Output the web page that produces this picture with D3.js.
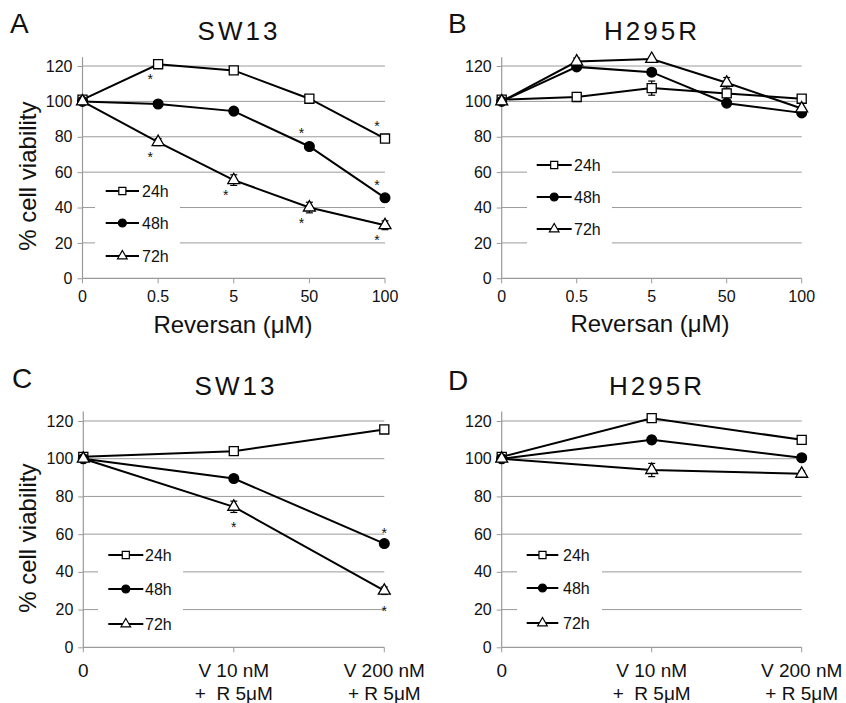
<!DOCTYPE html>
<html>
<head>
<meta charset="utf-8">
<script src="https://cdn.jsdelivr.net/npm/d3@7"></script>
<style>
  body { margin: 0; background: #fff; }
  svg text { font-family: "Liberation Sans", Arial, sans-serif; fill: #111; white-space: pre; }
</style>
</head>
<body>
<div id="chart"></div>
<script>
// categories / ticks
const seriesNames = ["24h", "48h", "72h"];
const doseLabels = ["0", "0.5", "5", "50", "100"];
const comboLabels = [["0"], ["V 10 nM", "+  R 5\u03bcM"], ["V 200 nM", "+ R 5\u03bcM"]];
const yTicks = [0, 20, 40, 60, 80, 100, 120];

// A: SW13, Reversan dose
const sw13Dose24 = [101, 121, 117.5, 101.5, 79];
const sw13Dose48 = [100, 98.5, 94.5, 74.5, 45.5];
const sw13Dose72 = [100, 77, 55.5, 40, 30];
const sw13DoseErr24 = [1, 1, 1, 1, 1];
const sw13DoseErr48 = [1, 1, 1, 1, 1];
const sw13DoseErr72 = [1, 2, 3, 3, 2.5];
const sw13DoseStars = [["24h", 1, "below"], ["24h", 4, "above"], ["48h", 3, "above"], ["48h", 4, "above"],
                       ["72h", 1, "below"], ["72h", 2, "below"], ["72h", 3, "below"], ["72h", 4, "below"]];

// B: H295R, Reversan dose
const h295Dose24 = [101, 102.5, 107.5, 104.5, 101.5];
const h295Dose48 = [100, 119.5, 116.5, 99, 93.5];
const h295Dose72 = [100, 122.5, 124, 110.5, 96];
const h295DoseErr24 = [1, 2.5, 4, 2, 1];
const h295DoseErr48 = [1, 1.5, 1, 1, 1];
const h295DoseErr72 = [1, 2, 1, 3, 1];

// C: SW13, vincristine + Reversan
const sw13Combo24 = [101, 104, 115.5];
const sw13Combo48 = [100, 89.5, 55];
const sw13Combo72 = [100, 74.5, 30];
const sw13ComboErr24 = [1, 1, 1];
const sw13ComboErr48 = [1, 1, 1];
const sw13ComboErr72 = [1, 3, 2];
const sw13ComboStars = [["72h", 1, "below"], ["48h", 2, "above"], ["72h", 2, "below"]];

// D: H295R, vincristine + Reversan
const h295Combo24 = [101, 121.5, 110];
const h295Combo48 = [100, 110, 100.5];
const h295Combo72 = [100, 94, 92];
const h295ComboErr24 = [1, 1, 1];
const h295ComboErr48 = [1, 2, 1];
const h295ComboErr72 = [1, 3.5, 1.5];

const width = 846, height = 703;
const grid = "#9a9a9a";

const svg = d3.select("#chart").append("svg")
    .attr("width", width)
    .attr("height", height);

const panels = [
    { letter: "A", title: "SW13", cats: doseLabels, values: [sw13Dose24, sw13Dose48, sw13Dose72],
      errs: [sw13DoseErr24, sw13DoseErr48, sw13DoseErr72], stars: sw13DoseStars,
      x0: 82.5, x1: 385, yb: 278.3, yt: 66, letterX: 10, letterY: 33, titleX: 239, titleY: 40,
      yTitle: true, xTitle: "Reversan (\u03bcM)", xTitleX: 233, xTitleY: 333, tickBase: 302, tickFont: 16,
      leg: { box: [95, 175, 85, 95], l0: 105.7, l1: 139, tx: 142, ys: [191, 223, 256] },
      starDx: -8, starAbove: -15, starBelow: 13 },
    { letter: "B", title: "H295R", cats: doseLabels, values: [h295Dose24, h295Dose48, h295Dose72],
      errs: [h295DoseErr24, h295DoseErr48, h295DoseErr72], stars: [],
      x0: 501.7, x1: 801.7, yb: 278.3, yt: 66, letterX: 448, letterY: 33, titleX: 652, titleY: 40,
      yTitle: false, xTitle: "Reversan (\u03bcM)", xTitleX: 650, xTitleY: 332, tickBase: 302, tickFont: 16,
      leg: { box: [527, 142, 85, 108], l0: 536.7, l1: 571.7, tx: 574, ys: [165, 197, 229] },
      starDx: -8, starAbove: -15, starBelow: 13 },
    { letter: "C", title: "SW13", cats: comboLabels, values: [sw13Combo24, sw13Combo48, sw13Combo72],
      errs: [sw13ComboErr24, sw13ComboErr48, sw13ComboErr72], stars: sw13ComboStars,
      x0: 83.3, x1: 384.3, yb: 647.3, yt: 421, letterX: 12, letterY: 388, titleX: 236, titleY: 395,
      yTitle: true, xTitle: null, tickBase: 677, tickFont: 19,
      leg: { box: [98, 538, 85, 104], l0: 108.3, l1: 143.3, tx: 145, ys: [555, 589, 624] },
      starDx: 0, starAbove: -13, starBelow: 18 },
    { letter: "D", title: "H295R", cats: comboLabels, values: [h295Combo24, h295Combo48, h295Combo72],
      errs: [h295ComboErr24, h295ComboErr48, h295ComboErr72], stars: [],
      x0: 501.7, x1: 801.7, yb: 647.3, yt: 421, letterX: 448, letterY: 390, titleX: 657, titleY: 395,
      yTitle: false, xTitle: null, tickBase: 677, tickFont: 19,
      leg: { box: [517, 538, 85, 104], l0: 526.7, l1: 558.3, tx: 563, ys: [555, 588, 623] },
      starDx: 0, starAbove: -13, starBelow: 18 }
];

const markerType = [d3.symbolSquare, d3.symbolCircle, d3.symbolTriangle];
const markerFill = ["#fff", "#000", "#fff"];
const markerSize = [82, 75, 62];
const legendSize = [50, 50, 40];

panels.forEach(p => {
    const g = svg.append("g");
    const x = d3.scalePoint().domain(d3.range(p.cats.length)).range([p.x0, p.x1]).padding(0);
    const y = d3.scaleLinear().domain([0, 120]).range([p.yb, p.yt]);

    // gridlines
    g.append("g").selectAll("line")
        .data(yTicks.filter(t => t > 0))
        .enter().append("line")
        .attr("x1", p.x0).attr("x2", p.x1)
        .attr("y1", d => y(d)).attr("y2", d => y(d))
        .style("stroke", grid).style("stroke-width", 1);

    // legend backing box hides gridlines
    g.append("rect")
        .attr("x", p.leg.box[0]).attr("y", p.leg.box[1])
        .attr("width", p.leg.box[2]).attr("height", p.leg.box[3])
        .style("fill", "#fff");

    // y axis
    const yAxis = g.append("g")
        .attr("transform", `translate(${p.x0},0)`)
        .call(d3.axisLeft(y).tickValues(yTicks).tickSize(5).tickPadding(5));
    yAxis.select(".domain").remove();
    yAxis.selectAll(".tick line").style("stroke", grid);
    yAxis.selectAll(".tick text").style("font-size", "16px").style("fill", "#111")
        .style("font-family", "Liberation Sans, Arial, sans-serif");
    g.append("line")
        .attr("x1", p.x0).attr("x2", p.x0)
        .attr("y1", p.yb).attr("y2", y(125))
        .style("stroke", grid).style("stroke-width", 1.2);

    // x axis
    g.append("line")
        .attr("x1", p.x0).attr("x2", p.x1)
        .attr("y1", p.yb).attr("y2", p.yb)
        .style("stroke", grid).style("stroke-width", 1.2);
    g.append("g").selectAll("line")
        .data(d3.range(p.cats.length))
        .enter().append("line")
        .attr("x1", d => x(d)).attr("x2", d => x(d))
        .attr("y1", p.yb).attr("y2", p.yb + 5)
        .style("stroke", grid);

    const xt = g.append("g").selectAll("text")
        .data(p.cats)
        .enter().append("text")
        .attr("x", (d, i) => x(i))
        .attr("y", p.tickBase)
        .attr("text-anchor", "middle")
        .style("font-size", p.tickFont + "px");
    xt.each(function(d) {
        const lines = Array.isArray(d) ? d : [d];
        const t = d3.select(this);
        lines.forEach((s, k) => {
            t.append("tspan").attr("x", t.attr("x")).attr("dy", k === 0 ? 0 : 23).text(s);
        });
    });

    // error bars
    p.values.forEach((vals, si) => {
        const eg = g.append("g").style("stroke", "#000").style("stroke-width", 1.2);
        vals.forEach((v, i) => {
            const e = p.errs[si][i];
            if (e < 1.5) return;
            const cx = x(i);
            eg.append("line").attr("x1", cx).attr("x2", cx).attr("y1", y(v - e)).attr("y2", y(v + e));
            [v - e, v + e].forEach(w => {
                eg.append("line").attr("x1", cx - 3.5).attr("x2", cx + 3.5).attr("y1", y(w)).attr("y2", y(w));
            });
        });
    });

    // lines
    const line = d3.line().x((d, i) => x(i)).y(d => y(d));
    p.values.forEach(vals => {
        g.append("path")
            .datum(vals)
            .attr("d", line)
            .style("fill", "none")
            .style("stroke", "#000")
            .style("stroke-width", 2);
    });

    // markers
    p.values.forEach((vals, si) => {
        g.append("g").selectAll("path")
            .data(vals)
            .enter().append("path")
            .attr("transform", (d, i) => `translate(${x(i)},${y(d)})`)
            .attr("d", d3.symbol().type(markerType[si]).size(markerSize[si]))
            .style("fill", markerFill[si])
            .style("stroke", "#000")
            .style("stroke-width", 1.3);
    });

    // significance stars
    g.append("g").selectAll("text")
        .data(p.stars)
        .enter().append("text")
        .attr("x", d => x(d[1]) + p.starDx)
        .attr("y", d => {
            const v = p.values[seriesNames.indexOf(d[0])][d[1]];
            return y(v) + (d[2] === "above" ? p.starAbove : p.starBelow) + 7;
        })
        .attr("text-anchor", "middle")
        .style("font-size", "14px")
        .text("*");

    // legend
    seriesNames.forEach((name, si) => {
        const ly = p.leg.ys[si];
        g.append("line")
            .attr("x1", p.leg.l0).attr("x2", p.leg.l1)
            .attr("y1", ly).attr("y2", ly)
            .style("stroke", "#000").style("stroke-width", 2);
        g.append("path")
            .attr("transform", `translate(${(p.leg.l0 + p.leg.l1) / 2},${ly})`)
            .attr("d", d3.symbol().type(markerType[si]).size(legendSize[si]))
            .style("fill", markerFill[si])
            .style("stroke", "#000")
            .style("stroke-width", 1.2);
        g.append("text")
            .attr("x", p.leg.tx).attr("y", ly + 6)
            .style("font-size", "16px")
            .text(name);
    });

    // titles and labels
    g.append("text")
        .attr("x", p.letterX).attr("y", p.letterY)
        .style("font-size", "28px")
        .text(p.letter);
    g.append("text")
        .attr("x", p.titleX).attr("y", p.titleY)
        .attr("text-anchor", "middle")
        .style("font-size", "26px")
        .style("letter-spacing", "3px")
        .text(p.title);
    if (p.yTitle) {
        g.append("text")
            .attr("transform", `translate(36,${(p.yb + p.yt) / 2 + 4}) rotate(-90)`)
            .attr("text-anchor", "middle")
            .style("font-size", "24px")
            .text("% cell viability");
    }
    if (p.xTitle) {
        g.append("text")
            .attr("x", p.xTitleX).attr("y", p.xTitleY)
            .attr("text-anchor", "middle")
            .style("font-size", "24px")
            .text(p.xTitle);
    }
});
</script>
</body>
</html>
